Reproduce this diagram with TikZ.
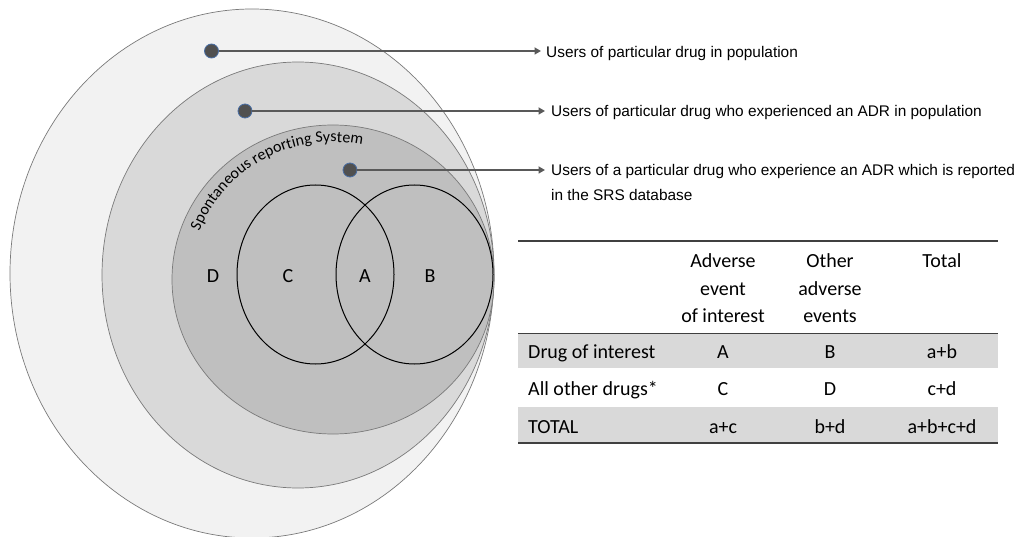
\documentclass[tikz,border=0pt]{standalone}
\usepackage{fontspec}
\setmainfont{Carlito}
\newfontfamily\arialfont{Liberation Sans}
\usetikzlibrary{arrows.meta,decorations.text}
\definecolor{popfill}{HTML}{F2F2F2}
\definecolor{adrfill}{HTML}{D9D9D9}
\definecolor{srsfill}{HTML}{BFBFBF}
\definecolor{zoneedge}{HTML}{7A7A7A}
\definecolor{conncol}{HTML}{595959}
\definecolor{dotfill}{HTML}{505050}
\definecolor{dotedge}{HTML}{4A6FA5}
\definecolor{rowgray}{HTML}{D9D9D9}
\definecolor{rulecol}{HTML}{404040}
\begin{document}
\begin{tikzpicture}[x=1pt,y=-1pt,
  zone/.style={draw=zoneedge,line width=0.7pt},
  venn/.style={draw=black,line width=1pt},
  marker/.style={circle,fill=dotfill,draw=dotedge,line width=0.8pt,minimum size=14pt,inner sep=0pt},
  pointer/.style={draw=conncol,line width=2.4pt,-{Triangle[length=6.5pt,width=7pt]},shorten >=1pt},
  lbl/.style={font=\arialfont\fontsize{15.4}{25}\selectfont,inner sep=0pt,align=left},
  setlbl/.style={font=\fontsize{20}{24}\selectfont,inner sep=0pt,anchor=base},
  cell/.style={font=\fontsize{20}{27.5}\selectfont,inner sep=0pt,anchor=base},
  head/.style={font=\fontsize{20}{27.5}\selectfont,inner sep=0pt,anchor=north,align=center},
  tabrule/.style={draw=rulecol,line width=1.2pt}
]
\useasboundingbox (0,0) rectangle (1030,537);

% nested populations
\filldraw[zone,fill=popfill] (252,273.5) ellipse [x radius=242, y radius=264.5];
\filldraw[zone,fill=adrfill] (298,275) ellipse [x radius=196, y radius=213];
\filldraw[zone,fill=srsfill] (333,279.5) ellipse [x radius=161, y radius=154.5];

% curved label
\path[decorate,decoration={text along path,text align=left,
  text={|\fontsize{16}{19}\selectfont|Spontaneous reporting System}}]
  (333,281) ++(-159:143 and 139) arc[start angle=-159,end angle=-60,x radius=143,y radius=139];

% Venn circles
\draw[venn] (315.5,274.5) ellipse [x radius=78.5, y radius=89.5];
\draw[venn] (414.5,274.5) ellipse [x radius=78.5, y radius=89.5];

\node[setlbl] (vd) at (213,282) {D};
\node[setlbl] (vc) at (288,282) {C};
\node[setlbl] (va) at (365,282) {A};
\node[setlbl] (vb) at (430,282) {B};

% markers and labels
\node[marker] (m1) at (211.5,51) {};
\node[marker] (m2) at (245,111) {};
\node[marker] (m3) at (350,170) {};

\node[lbl,anchor=base west] (l1) at (546,57.5) {Users of particular drug in population};
\node[lbl,anchor=base west] (l2) at (551,117) {Users of particular drug who experienced an ADR in population};
\node[lbl,anchor=north west] (l3) at (551,164.5) {Users of a particular drug who experience an ADR which is reported\\in the SRS database};

\coordinate (t1) at (542,51);
\coordinate (t2) at (546,111);
\coordinate (t3) at (546,170);
\draw[pointer] (m1) -- (t1);
\draw[pointer] (m2) -- (t2);
\draw[pointer] (m3) -- (t3);

% table
\fill[rowgray] (518,333) rectangle (998,368);
\fill[rowgray] (518,407) rectangle (998,443);
\draw[tabrule] (518,241) -- (998,241);
\draw[draw=rulecol,line width=0.8pt] (518,333) -- (998,333);
\draw[tabrule] (518,443) -- (998,443);

\node[head] (h1) at (723,253.5) {Adverse\\event\\of interest};
\node[head] (h2) at (830,253.5) {Other\\adverse\\events};
\node[head] (h3) at (942,253.5) {Total};

\node[cell,anchor=base west] (r1) at (528,358) {Drug of interest};
\node[cell,anchor=base west] (r2) at (528,395.5) {All other drugs*};
\node[cell,anchor=base west] (r3) at (528,433) {TOTAL};

\node[cell] (c11) at (723,358) {A};
\node[cell] (c12) at (830,358) {B};
\node[cell] (c13) at (942,358) {a+b};
\node[cell] (c21) at (723,395.5) {C};
\node[cell] (c22) at (830,395.5) {D};
\node[cell] (c23) at (942,395.5) {c+d};
\node[cell] (c31) at (723,433) {a+c};
\node[cell] (c32) at (830,433) {b+d};
\node[cell] (c33) at (942,433) {a+b+c+d};
\end{tikzpicture}
\end{document}
